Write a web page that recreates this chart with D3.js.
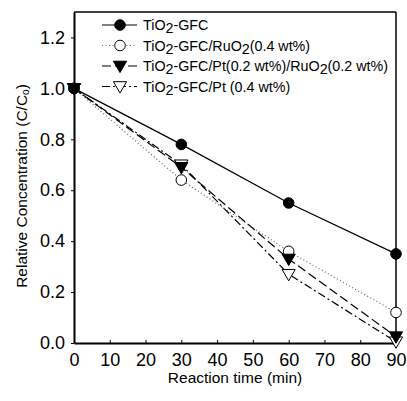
<!DOCTYPE html>
<html lang="en">
<head>
<meta charset="UTF-8">
<title>Relative Concentration</title>
<style>
    body { margin: 0; background: #fff; }
    text { font-family: Arial, "Liberation Sans", sans-serif; fill: #000; }
</style>
</head>
<body>
<script src="https://d3js.org/d3.v7.min.js"></script>
<script>
    // Data
    const times = [0, 30, 60, 90];
    const gfc = [1.0, 0.78, 0.55, 0.35];
    const gfcRu = [1.0, 0.64, 0.36, 0.12];
    const gfcPtRu = [1.0, 0.69, 0.33, 0.025];
    const gfcPt = [1.0, 0.70, 0.27, 0.005];
    const xTicks = [0, 10, 20, 30, 40, 50, 60, 70, 80, 90];
    const yTicks = [0.0, 0.2, 0.4, 0.6, 0.8, 1.0, 1.2];

    const series = [
        { name: ["TiO", "2", "-GFC"], values: gfc, dash: null, color: "#000", marker: "circle", fill: "#000" },
        { name: ["TiO", "2", "-GFC/RuO", "2", "(0.4 wt%)"], values: gfcRu, dash: "1,2.5", color: "#666", marker: "circle", fill: "#fff" },
        { name: ["TiO", "2", "-GFC/Pt(0.2 wt%)/RuO", "2", "(0.2 wt%)"], values: gfcPtRu, dash: "9,4", color: "#000", marker: "tridown", fill: "#000" },
        { name: ["TiO", "2", "-GFC/Pt (0.4 wt%)"], values: gfcPt, dash: "8,3,2,3", color: "#000", marker: "tridown", fill: "#fff" }
    ];

    const width = 407, height = 401;
    const plotLeft = 74, plotRight = 396, plotTop = 12, plotBottom = 343;

    const svg = d3.select("body").append("svg")
        .attr("width", width)
        .attr("height", height);

    const x = d3.scaleLinear().domain([0, 90]).range([plotLeft, plotRight]);
    const y = d3.scaleLinear().domain([0, 1.3]).range([plotBottom, plotTop]);

    // frame
    svg.append("line").attr("x1", plotLeft).attr("x2", plotRight).attr("y1", plotTop).attr("y2", plotTop)
        .attr("stroke", "#000").attr("stroke-width", 1.5);
    svg.append("line").attr("x1", plotRight).attr("x2", plotRight).attr("y1", plotTop).attr("y2", plotBottom)
        .attr("stroke", "#000").attr("stroke-width", 1.5);

    // axes
    const xAxis = svg.append("g")
        .attr("transform", "translate(0," + plotBottom + ")")
        .call(d3.axisBottom(x).tickValues(xTicks).tickSize(-3).tickPadding(10).tickSizeOuter(0));
    const yAxis = svg.append("g")
        .attr("transform", "translate(" + plotLeft + ",0)")
        .call(d3.axisLeft(y).tickValues(yTicks).tickFormat(d3.format(".1f")).tickSize(3).tickPadding(6).tickSizeOuter(0));

    [xAxis, yAxis].forEach(g => {
        g.select(".domain").attr("stroke-width", 2);
        g.selectAll(".tick line").attr("stroke-width", 1);
        g.selectAll(".tick text").style("font-size", "18px").attr("font-family", null);
    });

    // axis titles
    svg.append("text")
        .attr("x", (plotLeft + plotRight) / 2)
        .attr("y", 383)
        .attr("text-anchor", "middle")
        .style("font-size", "15.5px")
        .text("Reaction time (min)");

    const yt = svg.append("text")
        .attr("transform", "translate(27,186) rotate(-90)")
        .attr("text-anchor", "middle")
        .style("font-size", "15.5px");
    yt.append("tspan").text("Relative Concentration (C/C");
    yt.append("tspan").attr("font-size", "10px").attr("dy", 2).text("o");
    yt.append("tspan").attr("dy", -2).text(")");

    const line = d3.line()
        .x((d, i) => x(times[i]))
        .y(d => y(d));

    const tri = d3.symbol().type(d3.symbolTriangle).size(75);

    function drawMarker(g, s, cx, cy) {
        if (s.marker === "circle") {
            g.append("circle").attr("cx", cx).attr("cy", cy).attr("r", 5.3)
                .attr("fill", s.fill).attr("stroke", "#000").attr("stroke-width", 1);
        } else {
            g.append("path").attr("d", tri)
                .attr("transform", "translate(" + cx + "," + (cy - 1) + ") rotate(180)")
                .attr("fill", s.fill).attr("stroke", "#000").attr("stroke-width", 1);
        }
    }

    // draw last series first so triangles and circles layer like the picture
    const order = [3, 1, 2, 0];
    order.forEach(k => {
        const s = series[k];
        svg.append("path")
            .datum(s.values)
            .attr("d", line)
            .attr("fill", "none")
            .attr("stroke", s.color)
            .attr("stroke-width", 1.2)
            .attr("stroke-dasharray", s.dash);
    });
    order.forEach(k => {
        const s = series[k];
        const g = svg.append("g");
        s.values.forEach((v, i) => drawMarker(g, s, x(times[i]), y(v)));
    });

    // legend
    const legendY = [25, 45.5, 66, 86.5];
    series.forEach((s, i) => {
        const g = svg.append("g");
        g.append("line")
            .attr("x1", 102).attr("x2", 137)
            .attr("y1", legendY[i]).attr("y2", legendY[i])
            .attr("stroke", s.color).attr("stroke-width", 1.2)
            .attr("stroke-dasharray", s.dash);
        drawMarker(g, s, 120, legendY[i]);
        const t = g.append("text")
            .attr("x", 143)
            .attr("y", legendY[i] + 5)
            .style("font-size", "14.3px");
        s.name.forEach((part, j) => {
            const ts = t.append("tspan").text(part);
            if (part === "2") ts.attr("dy", 3);
            else if (j > 0) ts.attr("dy", -3);
        });
    });
</script>
</body>
</html>
